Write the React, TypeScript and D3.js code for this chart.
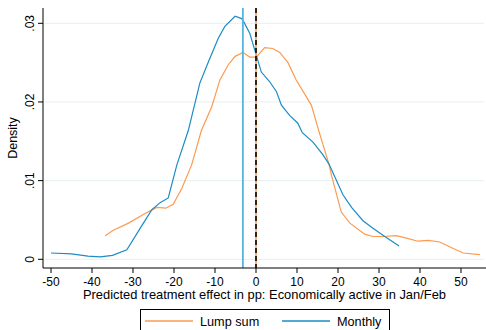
import React from "react";
import * as d3 from "d3";

const xTicks = [-50, -40, -30, -20, -10, 0, 10, 20, 30, 40, 50];
const yTicks = [0, 0.01, 0.02, 0.03];
const yTickLabels = ["0", ".01", ".02", ".03"];

const monthlyX = [-50, -45, -41, -38, -35, -31.5, -28.3, -25.4, -23.4, -21.4, -19.3, -16.5, -13.7, -11.6, -9.2, -7.6, -5.1, -3.5, -3.2, -1.5, -0.3, 1.3, 3.3, 5.0, 6.2, 8.2, 10.2, 11.3, 13.9, 16.3, 17.8, 21.2, 23.3, 26.1, 28.1, 31.4, 34.9];
const monthlyY = [0.0008, 0.0007, 0.0004, 0.0003, 0.0005, 0.0012, 0.0039, 0.0063, 0.0072, 0.0078, 0.012, 0.0164, 0.0224, 0.0251, 0.0281, 0.0296, 0.0309, 0.0306, 0.0304, 0.0287, 0.0266, 0.0238, 0.0226, 0.0213, 0.0196, 0.0183, 0.0173, 0.0161, 0.0149, 0.0133, 0.0121, 0.0082, 0.0066, 0.0049, 0.0041, 0.0029, 0.0017];

const lumpX = [-36.8, -34.8, -31.1, -27.5, -24.2, -22.0, -20.2, -18.1, -15.7, -13.3, -10.8, -8.8, -6.8, -5.1, -3.2, -1.5, 0.1, 2.1, 4.1, 5.8, 7.8, 9.8, 13.5, 15.5, 17.8, 18.4, 20.8, 22.9, 26.5, 28.5, 31.0, 34.2, 36.7, 39.5, 42, 44.8, 47.6, 50.5, 54.6];
const lumpY = [0.003, 0.0037, 0.0046, 0.0057, 0.0066, 0.0065, 0.007, 0.009, 0.012, 0.0164, 0.0194, 0.0228, 0.0247, 0.0258, 0.0263, 0.0257, 0.0257, 0.0269, 0.0268, 0.0263, 0.025, 0.0228, 0.0196, 0.016, 0.0121, 0.0107, 0.006, 0.0046, 0.0032, 0.0029, 0.0029, 0.003, 0.0027, 0.0023, 0.0024, 0.0022, 0.0015, 0.0008, 0.0006];

const monthlyMean = -3.2;
const zeroLine = 0;

const seriesNames = ["Lump sum", "Monthly"];
const BLUE = "#1b8dc4";
const ORANGE = "#fd9a50";
const FONT = "'Liberation Sans', Arial, sans-serif";

export default function App() {
  const W = 486, H = 330;
  const left = 43, right = 484, top = 8, bottom = 268;
  const x = d3.scaleLinear().domain([-50, 50]).range([51, 461]);
  const y = d3.scaleLinear().domain([0, 0.03]).range([259.3, 23.3]);
  const line = d3.line<[number, number]>().x(d => x(d[0])).y(d => y(d[1])).curve(d3.curveLinear);
  const mPath = line(monthlyX.map((v, i) => [v, monthlyY[i]]) as [number, number][]) || "";
  const lPath = line(lumpX.map((v, i) => [v, lumpY[i]]) as [number, number][]) || "";

  return (
    <svg width={W} height={H} style={{ position: "absolute", left: 0, top: 0, background: "#fff" }} fontFamily={FONT}>
      <rect x={0} y={0} width={W} height={H} fill="#fff" />
      {yTicks.map(t => (
        <line key={"g" + t} x1={left + 1} x2={right} y1={y(t)} y2={y(t)} stroke="#e6eff2" strokeWidth={1} />
      ))}
      <path d={lPath} fill="none" stroke={ORANGE} strokeWidth={1.2} />
      <path d={mPath} fill="none" stroke={BLUE} strokeWidth={1.2} />
      <line x1={x(monthlyMean)} x2={x(monthlyMean)} y1={top} y2={bottom} stroke="#55b3dc" strokeWidth={1.8} />
      <line x1={x(zeroLine)} x2={x(zeroLine)} y1={top} y2={bottom} stroke={ORANGE} strokeWidth={1.6} />
      <line x1={x(zeroLine)} x2={x(zeroLine)} y1={top} y2={bottom} stroke="#000" strokeWidth={1.6} strokeDasharray="5,3" />
      {/* axes */}
      <line x1={left} x2={left} y1={top} y2={bottom} stroke="#000" strokeWidth={1} />
      <line x1={left} x2={W} y1={bottom} y2={bottom} stroke="#000" strokeWidth={1} />
      {yTicks.map((t, i) => (
        <g key={"y" + t}>
          <line x1={left - 5} x2={left} y1={y(t)} y2={y(t)} stroke="#000" />
          <text transform={`translate(${left - 9},${y(t)}) rotate(-90)`} textAnchor="middle" fontSize={12} fill="#000">
            {yTickLabels[i]}
          </text>
        </g>
      ))}
      {xTicks.map(t => (
        <g key={"x" + t}>
          <line x1={x(t)} x2={x(t)} y1={bottom} y2={bottom + 5} stroke="#000" />
          <text x={x(t)} y={bottom + 17.5} textAnchor="middle" fontSize={12} fill="#000">{t}</text>
        </g>
      ))}
      <text x={264.5} y={298.5} textAnchor="middle" fontSize={12.9} fill="#000">
        Predicted treatment effect in pp: Economically active in Jan/Feb
      </text>
      <text transform={`translate(17,${(top + bottom) / 2}) rotate(-90)`} textAnchor="middle" fontSize={12.5} fill="#000">
        Density
      </text>
      {/* legend */}
      <rect x={140.5} y={309.5} width={249} height={30} fill="#fff" stroke="#000" strokeWidth={1} />
      <line x1={145} x2={193} y1={321} y2={321} stroke={ORANGE} strokeWidth={1.5} />
      <text x={200} y={325.5} fontSize={12.7} fill="#000">{seriesNames[0]}</text>
      <line x1={282} x2={330} y1={321} y2={321} stroke={BLUE} strokeWidth={1.5} />
      <text x={337} y={325.5} fontSize={12.7} fill="#000">{seriesNames[1]}</text>
    </svg>
  );
}
